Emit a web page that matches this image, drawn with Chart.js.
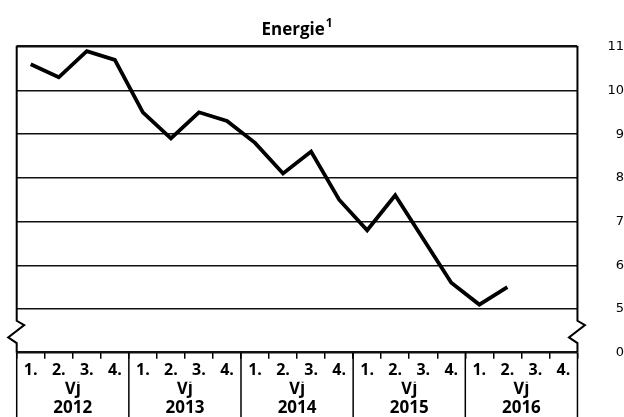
<!DOCTYPE html>
<html>
<head>
<meta charset="utf-8">
<script src="https://cdn.jsdelivr.net/npm/chart.js@4"></script>
<style>
  html, body { margin: 0; padding: 0; background: #fff; }
  #wrap { width: 624px; height: 417px; }
</style>
</head>
<body>
<div id="wrap"><canvas id="c" width="624" height="417"></canvas></div>
<script>
// ---- data ----
const quarterLabels = ['1.', '2.', '3.', '4.', '1.', '2.', '3.', '4.', '1.', '2.', '3.', '4.', '1.', '2.', '3.', '4.', '1.', '2.', '3.', '4.'];
const yearLabels = ['2012', '2013', '2014', '2015', '2016'];
const periodWord = 'Vj';
const energieValues = [10.6, 10.3, 10.9, 10.7, 9.5, 8.9, 9.5, 9.3, 8.8, 8.1, 8.6, 7.5, 6.8, 7.6, 6.6, 5.6, 5.1, 5.5, null, null];
const titleText = 'Energie';
const titleFootnote = '1';
const yMin = 4;          // axis break: position of "0"
const yMax = 11;
const yBreakLabel = '0';

const labelFont = "'Open Sans', 'DejaVu Sans', sans-serif";
const tickFont = "'DejaVu Sans', sans-serif";

const framePlugin = {
  id: 'frame',
  afterDraw(chart) {
    const ctx = chart.ctx;
    const x = chart.scales.x, y = chart.scales.y;
    const ca = chart.chartArea;
    const y5 = y.getPixelForValue(yMin + 1);
    const yb = y.getPixelForValue(yMin);
    const h = yb - y5;
    ctx.save();
    ctx.strokeStyle = '#000';
    ctx.lineWidth = 2;
    ctx.lineJoin = 'miter';
    [ca.left, ca.right].forEach(xb => {
      ctx.beginPath();
      ctx.moveTo(xb, ca.top - 1);
      ctx.lineTo(xb, y5 + 0.27 * h);
      ctx.lineTo(xb + 7.5, y5 + 0.37 * h);
      ctx.lineTo(xb - 8.5, y5 + 0.65 * h);
      ctx.lineTo(xb, y5 + 0.78 * h);
      ctx.lineTo(xb, yb);
      ctx.stroke();
    });
    // year separators below the axis
    const step = x.getPixelForValue(1) - x.getPixelForValue(0);
    ctx.lineWidth = 1.5;
    for (let i = 0; i <= quarterLabels.length; i += 4) {
      const px = x.getPixelForValue(i) - step / 2;
      ctx.beginPath();
      ctx.moveTo(px, yb);
      ctx.lineTo(px, chart.height);
      ctx.stroke();
    }
    // title
    const cx = (ca.left + ca.right) / 2;
    ctx.fillStyle = '#000';
    ctx.textBaseline = 'alphabetic';
    ctx.font = "bold 17px " + labelFont;
    const w1 = ctx.measureText(titleText).width;
    ctx.font = "bold 12px " + labelFont;
    const w2 = ctx.measureText(titleFootnote).width;
    const startX = cx - (w1 + w2 + 1) / 2;
    ctx.textAlign = 'left';
    ctx.font = "bold 17px " + labelFont;
    ctx.fillText(titleText, startX, 35);
    ctx.font = "bold 12px " + labelFont;
    ctx.fillText(titleFootnote, startX + w1 + 1, 27);
    ctx.restore();
  }
};

new Chart(document.getElementById('c'), {
  type: 'line',
  data: {
    labels: quarterLabels,
    datasets: [{
      data: energieValues,
      borderColor: '#000',
      borderWidth: 3.8,
      pointRadius: 0,
      tension: 0,
      fill: false,
      borderJoinStyle: 'miter'
    }]
  },
  options: {
    responsive: false,
    animation: false,
    layout: { padding: { left: 16.7, right: 0, top: 46.7, bottom: 1.2 } },
    plugins: { legend: { display: false }, title: { display: false }, tooltip: { enabled: false } },
    scales: {
      x: {
        type: 'category',
        position: 'bottom',
        offset: true,
        grid: { display: true, drawOnChartArea: false, offset: true, tickLength: 6, color: '#000', lineWidth: 1.5 },
        border: { display: false },
        ticks: { color: '#000', font: { family: labelFont, size: 16, weight: 'bold', lineHeight: 1.125 }, padding: 2.5, maxRotation: 0, autoSkip: false }
      },
      x2: {
        type: 'category',
        position: 'bottom',
        labels: yearLabels.map(yr => [periodWord, yr]),
        offset: true,
        grid: { display: false, drawTicks: false },
        border: { display: false },
        ticks: { color: '#000', font: { family: labelFont, size: 17, weight: 'bold', lineHeight: 1.15 }, padding: -2.5, maxRotation: 0, autoSkip: false }
      },
      y: {
        position: 'right',
        min: yMin,
        max: yMax,
        grid: {
          drawTicks: false,
          color: '#111',
          lineWidth: ctx => (ctx.tick && (ctx.tick.value === yMax || ctx.tick.value === yMin)) ? 2.5 : 1.4
        },
        border: { display: false },
        ticks: {
          stepSize: 1,
          color: '#000',
          padding: 15,
          crossAlign: 'far',
          font: { family: tickFont, size: 13 },
          callback: v => v === yMin ? yBreakLabel : String(v)
        }
      }
    }
  },
  plugins: [framePlugin]
});
</script>
</body>
</html>
